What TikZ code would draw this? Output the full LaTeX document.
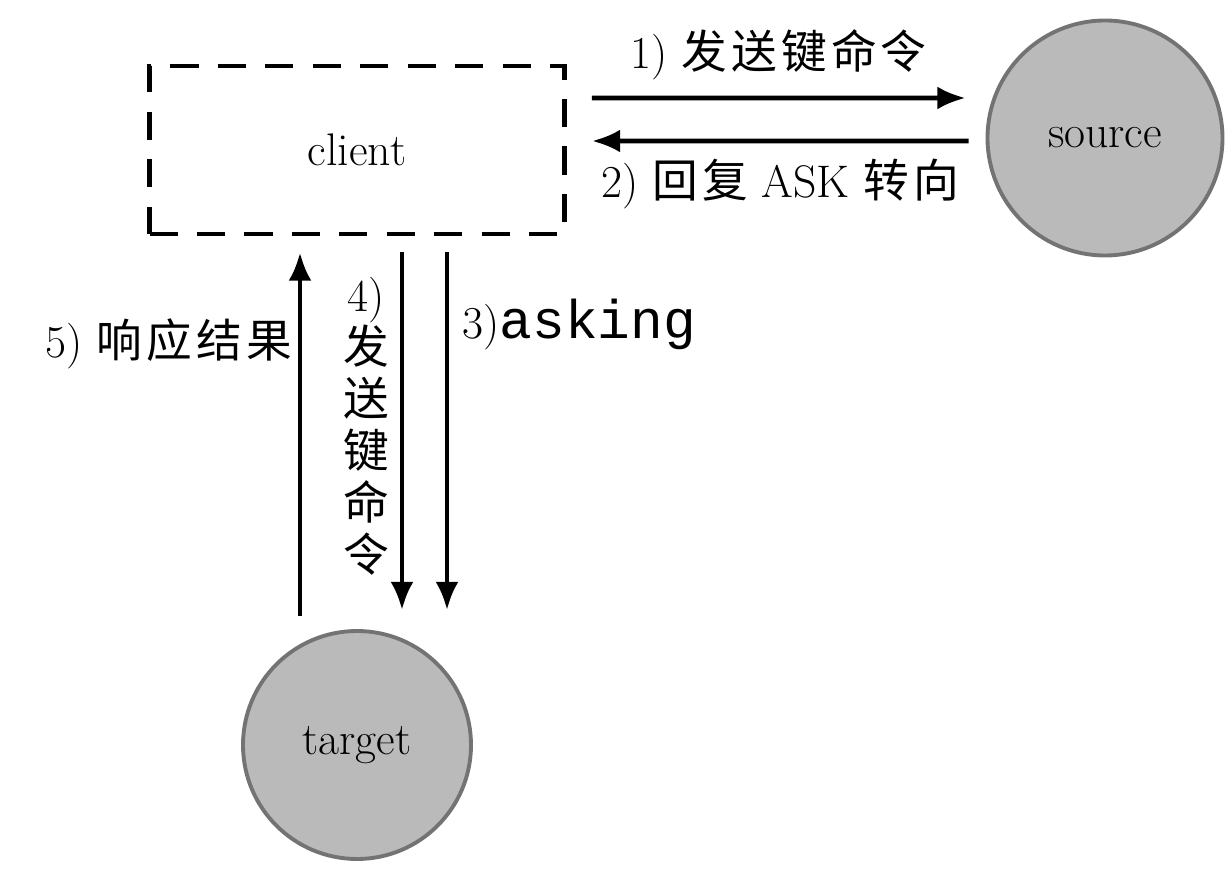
\documentclass[tikz,border=0pt]{standalone}
\usepackage{fontspec}
\newfontfamily\cjk[LetterSpace=9]{Noto Sans CJK SC}
\newfontfamily\codefont{Liberation Mono}
\usetikzlibrary{shapes,arrows.meta,positioning}

\begin{document}
\begin{tikzpicture}[auto, font=\fontsize{26}{30}\selectfont]
    \tikzstyle{clientbox} = [rectangle, draw, dash pattern=on 16pt off 11pt, line width=2.8pt, minimum width=8.3cm, minimum height=3.36cm]
    \tikzstyle{server} = [circle, draw=black!55, line width=2.2pt, fill=black!27, minimum size=4.7cm]
    \tikzstyle{line} = [draw, -{Latex[length=16pt, width=13pt]}, line width=2.6pt]
    \tikzstyle{vtext} = [align=center, font=\fontsize{26}{29.5}\selectfont\cjk]

    \useasboundingbox (0,0) rectangle (24.6,-17.42);

    \node [clientbox] (client) at (7.14,-3.0) {client};
    \node [server, right of=client, node distance=14.96cm, yshift=0.24cm] (source) {source};
    \node [server, below of=client, node distance=11.9cm, minimum size=4.56cm] (target) {target};

    \path [line] ([xshift=0.5cm,yshift=1.04cm]client.east) -- node [above, yshift=0.2cm] {1) {\cjk 发送键命令}} ([xshift=-0.4cm,yshift=0.8cm]source.west);
    \path [line] ([xshift=-0.34cm,yshift=-0.06cm]source.west) -- node [below, yshift=-0.2cm] {2) {\cjk 回复} ASK {\cjk 转向}} ([xshift=0.5cm,yshift=0.18cm]client.east);

    \path [line] ([xshift=-1.14cm,yshift=0.26cm]target.north) -- node [left, pos=0.75] {5) {\cjk 响应结果}} ([xshift=-1.14cm,yshift=-0.32cm]client.south);
    \path [line] ([xshift=0.9cm,yshift=-0.32cm]client.south) -- node [left, vtext, xshift=-0.1cm, yshift=0.1cm] {{\rmfamily 4)}\\发\\送\\键\\命\\令} ([xshift=0.9cm,yshift=0.38cm]target.north);
    \path [line] ([xshift=1.8cm,yshift=-0.32cm]client.south) -- node [right, pos=0.2, xshift=0.15cm] {3){\codefont\fontsize{31}{34}\selectfont asking}} ([xshift=1.8cm,yshift=0.38cm]target.north);
\end{tikzpicture}
\end{document}
